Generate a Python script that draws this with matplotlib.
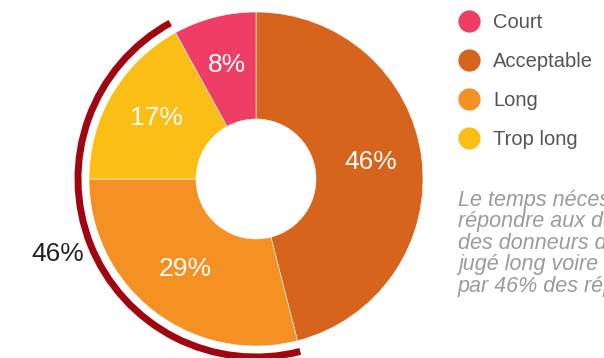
import numpy as np
import matplotlib.pyplot as plt
from matplotlib.patches import Arc
from matplotlib.lines import Line2D

plt.rcParams['font.family'] = ['Liberation Sans', 'DejaVu Sans']

# clockwise from 12 o'clock
labels = ['Acceptable', 'Long', 'Trop long', 'Court']
values = [46, 29, 17, 8]
colors = ['#D6641D', '#F59122', '#FBBE14', '#EF3D65']

legend_order = ['Court', 'Acceptable', 'Long', 'Trop long']

# the bracket groups the two "long" answers
group = ['Long', 'Trop long']
group_value = 46

note = ("Le temps nécessaire pour\n"
        "répondre aux demandes\n"
        "des donneurs d'ordres est\n"
        "jugé long voire trop long\n"
        "par 46% des répondants")

W, H = 604, 358
fig = plt.figure(figsize=(W / 100, H / 100), dpi=100)
ax = fig.add_axes([0, 0, 1, 1])

cx, cy, r_out, r_in = 256, 179, 167, 60
wedges, texts = ax.pie(values, colors=colors, startangle=90, counterclock=False,
                       center=(cx, cy), radius=r_out,
                       wedgeprops=dict(width=r_out - r_in, edgecolor='white', linewidth=0.4))

# percentage labels inside each slice
for w, v in zip(wedges, values):
    mid = np.deg2rad((w.theta1 + w.theta2) / 2)
    r = 116
    ax.text(cx + r * np.cos(mid), cy + r * np.sin(mid) + 2, f'{v}%',
            color='white', fontsize=19, ha='center', va='center')

# outer arc over the grouped slices
sel = [w for w, l in zip(wedges, labels) if l in group]
t1 = min(w.theta1 for w in sel)
t2 = max(w.theta2 for w in sel)
r_arc = 178
ax.add_patch(Arc((cx, cy), 2 * r_arc, 2 * r_arc, theta1=t1, theta2=t2,
                 color='#A0060F', linewidth=5, capstyle='butt'))
ax.text(58, 104, f'{group_value}%', color='#222222', fontsize=19,
        ha='center', va='center')

# legend with round markers
handles = [Line2D([], [], linestyle='none', marker='o', markersize=16,
                  markerfacecolor=colors[labels.index(l)], markeredgewidth=0)
           for l in legend_order]
leg = ax.legend(handles, legend_order, loc='upper left', bbox_to_anchor=(445 / W, 1.003),
                frameon=False, fontsize=14.5, labelspacing=1.0, handlelength=1.0,
                handletextpad=0.7, borderpad=0.2)
for t in leg.get_texts():
    t.set_color('#555555')

ax.text(458, H - 190, note, color='#9B9B9B', fontsize=15.5, style='italic',
        ha='left', va='top', linespacing=1.03)

ax.set_xlim(0, W)
ax.set_ylim(0, H)
ax.set_aspect('equal')
ax.axis('off')

fig.savefig('out.png', dpi=100)
